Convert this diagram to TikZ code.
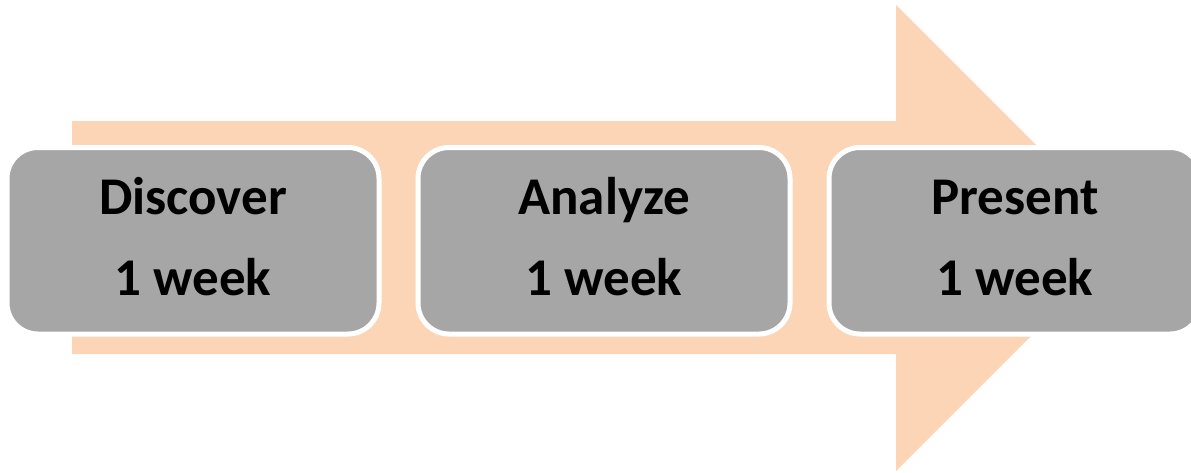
\documentclass[tikz,border=0pt]{standalone}
\usepackage{fontspec}
\setmainfont{Carlito}
\usetikzlibrary{positioning}
\definecolor{peach}{RGB}{251,213,181}
\definecolor{stepgrey}{RGB}{166,166,166}
\tikzset{
  phasebox/.style={draw=white, line width=5pt, fill=stepgrey, rounded corners=31pt,
    minimum width=372pt, minimum height=186.5pt, inner sep=0pt, anchor=north west},
  phaselabel/.style={font=\fontsize{53}{63}\selectfont\bfseries, text=black,
    inner sep=0pt, anchor=base},
}
\begin{document}
\begin{tikzpicture}[x=1pt, y=-1pt]
  \useasboundingbox (0,0) rectangle (1191,472);
  % broad process arrow behind the phases
  \fill[peach] (72,121) -- (896,121) -- (896,5) -- (1129,238) -- (896,471)
    -- (896,354) -- (72,354) -- cycle;
  % phase boxes
  \node[phasebox] (discover) at (4.5,145) {};
  \node[phasebox] (analyze) at (415.5,145) {};
  \node[phasebox] (present) at (826.5,145) {};
  % phase names and durations
  \foreach \b/\t in {discover/Discover, analyze/Analyze, present/Present} {
    \node[phaselabel] (\b-name) at ([yshift=26pt]\b.center) {\t};
    \node[phaselabel] (\b-time) at ([yshift=-55pt]\b.center) {1 week};
  }
\end{tikzpicture}
\end{document}
